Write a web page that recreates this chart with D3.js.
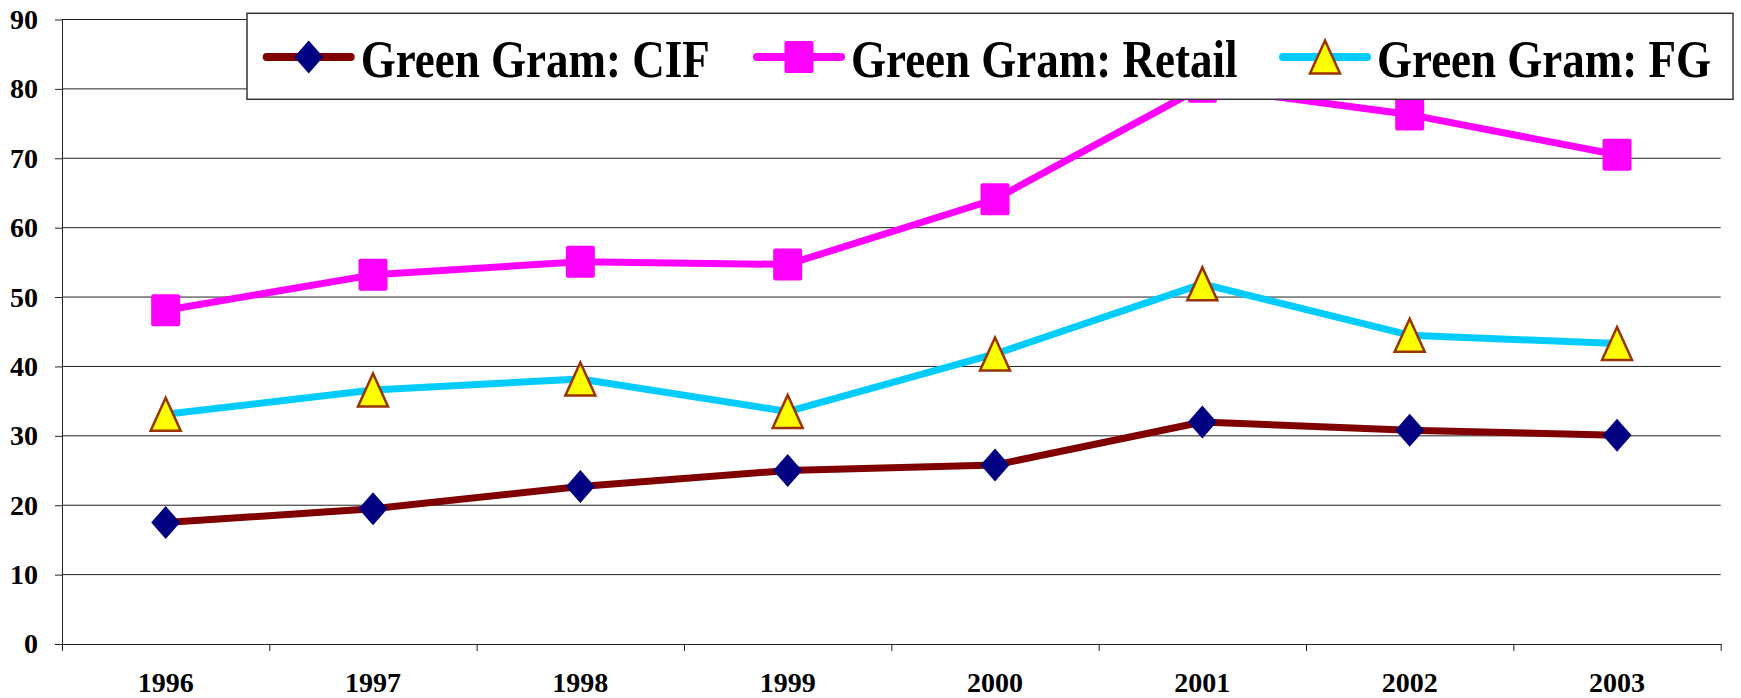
<!DOCTYPE html>
<html>
<head>
<meta charset="utf-8">
<script src="https://cdn.jsdelivr.net/npm/d3@7"></script>
<style>
  body { margin: 0; background: #fff; }
  svg { display: block; }
  text { font-family: "Liberation Serif", "Times New Roman", serif; font-weight: bold; fill: #000; }
</style>
</head>
<body>
<div class="chart"></div>
<script>
var svgWidth = 1741;
var svgHeight = 698;

// plot area (pixel box of the reference)
var plot = { left: 62, right: 1720.7, top: 19.5, bottom: 644 };

var years = ["1996", "1997", "1998", "1999", "2000", "2001", "2002", "2003"];
var yTicks = [0, 10, 20, 30, 40, 50, 60, 70, 80, 90];

var cif    = [17.5, 19.5, 22.7, 25.0, 25.8, 32.0, 30.8, 30.1];
var retail = [48.1, 53.2, 55.1, 54.7, 64.1, 80.3, 76.3, 70.5];
var fg     = [33.1, 36.6, 38.2, 33.5, 41.8, 51.9, 44.5, 43.3];

var seriesNames = ["Green Gram: CIF", "Green Gram: Retail", "Green Gram: FG"];

var series = [
  { name: seriesNames[0], values: cif,    line: "#800000", marker: "diamond",  fill: "#000080", stroke: "none" },
  { name: seriesNames[1], values: retail, line: "#FF00FF", marker: "square",   fill: "#FF00FF", stroke: "none" },
  { name: seriesNames[2], values: fg,     line: "#00CCFF", marker: "triangle", fill: "#FFFF00", stroke: "#993300" }
];

var svg = d3.select(".chart")
  .append("svg")
  .attr("width", svgWidth)
  .attr("height", svgHeight);

var xBand = d3.scaleBand()
  .domain(years)
  .range([plot.left, plot.right])
  .padding(0);

// boundaries between categories, for the tick marks
var xEdge = d3.scaleLinear()
  .domain([0, years.length])
  .range([plot.left, plot.right]);

var y = d3.scaleLinear()
  .domain([0, 90])
  .range([plot.bottom, plot.top]);

var xc = function(i) { return xBand(years[i]) + xBand.bandwidth() / 2; };

// gridlines
svg.append("g")
  .selectAll("line")
  .data(yTicks.slice(1))
  .enter()
  .append("line")
  .attr("x1", plot.left)
  .attr("x2", plot.right)
  .attr("y1", d => y(d))
  .attr("y2", d => y(d))
  .attr("stroke", "#222")
  .attr("stroke-width", 1);

// y axis
var leftAxis = d3.axisLeft(y).tickValues(yTicks).tickSize(7).tickSizeOuter(0).tickPadding(17);
var gy = svg.append("g")
  .attr("transform", `translate(${plot.left},0)`)
  .attr("font-family", null)
  .call(leftAxis);
gy.selectAll("text").style("font-size", "28px");

// x axis: ticks at the category edges
var edgeAxis = d3.axisBottom(xEdge).ticks(years.length).tickSize(7).tickSizeOuter(0).tickFormat("");
svg.append("g")
  .attr("transform", `translate(0,${plot.bottom})`)
  .call(edgeAxis);

// x labels at the category centres
var labelAxis = d3.axisBottom(xBand).tickSize(0).tickPadding(28);
var gx = svg.append("g")
  .attr("transform", `translate(0,${plot.bottom})`)
  .call(labelAxis);
gx.select(".domain").remove();
gx.selectAll("text").style("font-size", "28px");

svg.selectAll(".domain").attr("stroke", "#222");
svg.selectAll(".tick line").attr("stroke", "#222");
svg.selectAll(".tick text").attr("fill", "#000");

var markerPath = function(type) {
  if (type === "diamond") return "M0,-16.5L14.5,0L0,16.5L-14.5,0Z";
  if (type === "triangle") return "M0,-16.5L15,16.5L-15,16.5Z";
  return null;
};

var drawMarker = function(g, s) {
  if (s.marker === "square") {
    g.append("rect")
      .attr("x", -14.5).attr("y", -16)
      .attr("width", 29).attr("height", 32)
      .attr("rx", 2)
      .attr("fill", s.fill);
  } else {
    g.append("path")
      .attr("d", markerPath(s.marker))
      .attr("fill", s.fill)
      .attr("stroke", s.stroke)
      .attr("stroke-width", s.stroke === "none" ? 0 : 2.5)
      .attr("stroke-linejoin", "miter");
  }
};

var line = d3.line()
  .x((d, i) => xc(i))
  .y(d => y(d));

series.forEach(function(s) {
  svg.append("path")
    .datum(s.values)
    .attr("d", line)
    .attr("fill", "none")
    .attr("stroke", s.line)
    .attr("stroke-width", 7)
    .attr("stroke-linejoin", "round");

  svg.append("g")
    .selectAll("g")
    .data(s.values)
    .enter()
    .append("g")
    .attr("transform", (d, i) => `translate(${xc(i)},${y(d)})`)
    .each(function() { drawMarker(d3.select(this), s); });
});

// legend
var legend = svg.append("g");
legend.append("rect")
  .attr("x", 247).attr("y", 13.3)
  .attr("width", 1486).attr("height", 86)
  .attr("fill", "#fff")
  .attr("stroke", "#333")
  .attr("stroke-width", 1.5);

var legendX = [266.7, 757, 1283];
var legendY = 57;

series.forEach(function(s, i) {
  var item = legend.append("g").attr("transform", `translate(${legendX[i]},${legendY})`);
  item.append("line")
    .attr("x1", 0).attr("x2", 84)
    .attr("stroke", s.line)
    .attr("stroke-width", 8)
    .attr("stroke-linecap", "round");
  var m = item.append("g").attr("transform", "translate(42,0)");
  drawMarker(m, s);
  item.append("text")
    .attr("transform", "translate(94,19.5) scale(1,1.16)")
    .style("font-size", "45px")
    .text(s.name);
});
</script>
</body>
</html>
